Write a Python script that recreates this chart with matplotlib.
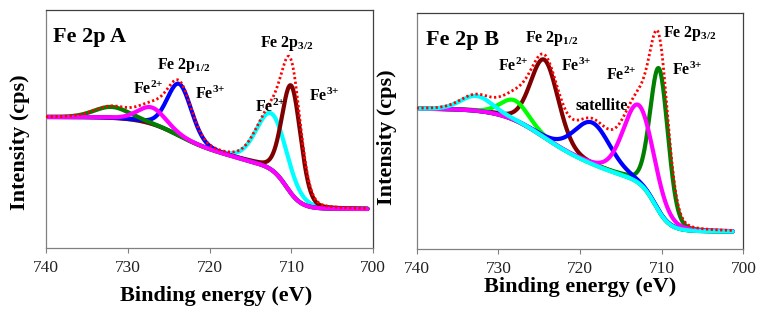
import numpy as np
import matplotlib.pyplot as plt

plt.rcParams['font.family'] = ['Liberation Serif', 'DejaVu Serif']
plt.rcParams['mathtext.fontset'] = 'custom'
plt.rcParams['mathtext.rm'] = 'Liberation Serif:bold'
plt.rcParams['mathtext.it'] = 'Liberation Serif:bold'
plt.rcParams['mathtext.bf'] = 'Liberation Serif:bold'

# ---- Panel A: fitted components (centre eV, height above background, FWHM eV)
a_names = ['Fe2+ 2p3/2', 'Fe3+ 2p3/2', 'Fe3+ 2p1/2', 'satellite', 'Fe2+ 2p1/2']
a_centers = [712.4, 710.0, 723.7, 732.0, 727.05]
a_heights = [56.4, 108.0, 52.0, 11.0, 16.5]
a_fwhm = [4.4, 2.7, 3.5, 5.0, 4.0]
# Shirley-like background: low level + smooth steps (centre, width, height)
a_bg_low = 38.7
a_bg_centers = [710.6, 716.0, 724.0]
a_bg_widths = [0.9, 2.5, 2.2]
a_bg_heights = [40.0, 18.0, 34.0]
a_end = 700.7

# ---- Panel B
b_names = ['Fe3+ 2p1/2', 'Fe3+ 2p3/2', 'Fe2+ 2p1/2', 'satellite', 'Fe2+ 2p3/2', 'satellite 2']
b_centers = [724.35, 710.3, 728.0, 718.5, 712.8, 732.7]
b_heights = [78.0, 143.0, 20.0, 41.5, 78.0, 15.0]
b_fwhm = [4.0, 2.6, 4.0, 5.2, 4.4, 4.5]
b_bg_low = 17.3
b_bg_centers = [710.8, 717.5, 725.0]
b_bg_widths = [0.9, 3.0, 2.5]
b_bg_heights = [48.0, 28.0, 47.0]
b_end = 701.3

a_colors = ['#00ffff', '#800000', '#0000ff', '#008000', '#ff00ff']
b_colors = ['#800000', '#008000', '#00ff00', '#0000ff', '#ff00ff', '#00ffff']


def peak(e, c, h, f, eta=0.15):
    g = np.exp(-4 * np.log(2) * ((e - c) / f) ** 2)
    l = 1 / (1 + 4 * ((e - c) / f) ** 2)
    return h * ((1 - eta) * g + eta * l)


def background(e, low, cs, ws, hs):
    b = np.full_like(e, low)
    for c, w, h in zip(cs, ws, hs):
        b += h / (1 + np.exp(-(e - c) / w))
    return b


def draw_panel(ax, end, low, bcs, bws, bhs, centers, heights, fwhm, colors, ytop):
    e = np.linspace(740, end, 800)
    bg = background(e, low, bcs, bws, bhs)
    total = bg.copy()
    for c, h, f, col in zip(centers, heights, fwhm, colors):
        p = peak(e, c, h, f)
        total += p
        ax.plot(e, bg + p, color=col, lw=3, solid_capstyle='round', zorder=2)
    ax.plot(e, total, color='red', lw=2, ls=(0, (0.8, 0.9)), zorder=3)

    ax.set_xlim(740, 700)
    ax.set_ylim(0, ytop)
    ax.set_xticks([740, 730, 720, 710, 700])
    ax.set_yticks([])
    ax.tick_params(axis='x', direction='out', length=3.5, width=0.8,
                   color='#808080', labelsize=12.5, pad=5, labelcolor='#222222')
    for s in ['left', 'bottom']:
        ax.spines[s].set_color('#808080')
    for s in ['top', 'right']:
        ax.spines[s].set_color('#404040')
    for s in ax.spines.values():
        s.set_linewidth(0.9)
    ax.set_xlabel('Binding energy (eV)', fontsize=16, fontweight='bold')
    ax.set_ylabel('Intensity (cps)', fontsize=16, fontweight='bold')


fig = plt.figure(figsize=(7.73, 3.2), dpi=100)
axA = fig.add_axes([0.0595, 0.2259, 0.4234, 0.7428])
axB = fig.add_axes([0.5391, 0.2219, 0.4225, 0.7384])

draw_panel(axA, a_end, a_bg_low, a_bg_centers, a_bg_widths, a_bg_heights,
           a_centers, a_heights, a_fwhm, a_colors, 237.7)
draw_panel(axB, b_end, b_bg_low, b_bg_centers, b_bg_widths, b_bg_heights,
           b_centers, b_heights, b_fwhm, b_colors, 236.3)

axA.yaxis.set_label_coords(-0.050, 0.443)
axB.yaxis.set_label_coords(-0.060, 0.474)
axA.xaxis.set_label_coords(0.52, -0.16)
axB.xaxis.set_label_coords(0.50, -0.12)

fe2 = r'Fe$^{2\!+}$'
fe3 = r'Fe$^{3\!+}$'
lab = dict(fontsize=11.5, fontweight='bold', ha='center', va='center')
axA.text(739.1, 211.2, 'Fe 2p A', fontsize=16, fontweight='bold', ha='left', va='center')
axA.text(723.2, 182.7, r'Fe 2p$_{1/2}$', **lab)
axA.text(727.5, 158.7, fe2, **lab)
axA.text(719.9, 153.7, fe3, **lab)
axA.text(710.5, 204.7, r'Fe 2p$_{3/2}$', **lab)
axA.text(712.6, 140.7, fe2, **lab)
axA.text(706.0, 151.7, fe3, **lab)

axB.text(738.9, 209.5, 'Fe 2p B', fontsize=16, fontweight='bold', ha='left', va='center')
axB.text(723.4, 211.0, r'Fe 2p$_{1/2}$', **lab)
axB.text(728.2, 183.0, fe2, **lab)
axB.text(720.4, 183.0, fe3, **lab)
axB.text(717.4, 143.0, 'satellite', **lab)
axB.text(715.0, 174.0, fe2, **lab)
axB.text(706.6, 216.0, r'Fe 2p$_{3/2}$', **lab)
axB.text(706.8, 179.0, fe3, **lab)

fig.savefig('out.png', dpi=100)
